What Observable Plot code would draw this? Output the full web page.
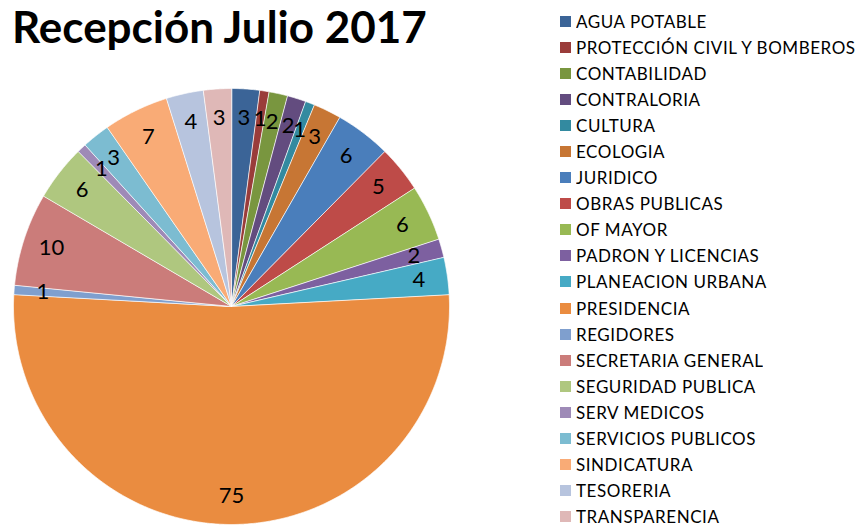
<!DOCTYPE html>
<html><head><meta charset="utf-8">
<script src="https://cdn.jsdelivr.net/npm/d3@7"></script>
<script src="https://cdn.jsdelivr.net/npm/@observablehq/plot@0.6"></script>
<style>
body{margin:0;background:#fff;}
#wrap{position:relative;width:862px;height:527px;overflow:hidden;font-family:Lato,sans-serif;}
#title{position:absolute;left:12px;top:0px;font:bold 44px Lato,sans-serif;color:#000;white-space:nowrap;}
#pie{position:absolute;left:0;top:0;}
#legend{position:absolute;left:560px;top:8px;}
.lg-swatches{font-family:Lato,sans-serif !important;font-size:17px !important;letter-spacing:0.55px;color:#000 !important;margin:0 !important;}
.lg-swatch{height:26.1px !important;padding:0 !important;margin:0 !important;display:flex;align-items:center;white-space:nowrap;}
.lg-swatch svg{margin-right:5px !important;}
</style></head><body>
<div id="wrap"><div id="pie"></div><div id="title"></div><div id="legend"></div></div>
<script>
const title = "Recepción Julio 2017";
const categories = ["AGUA POTABLE","PROTECCIÓN CIVIL Y BOMBEROS","CONTABILIDAD","CONTRALORIA","CULTURA","ECOLOGIA","JURIDICO","OBRAS PUBLICAS","OF MAYOR","PADRON Y LICENCIAS","PLANEACION URBANA","PRESIDENCIA","REGIDORES","SECRETARIA GENERAL","SEGURIDAD PUBLICA","SERV MEDICOS","SERVICIOS PUBLICOS","SINDICATURA","TESORERIA","TRANSPARENCIA"];
const values = [3,1,2,2,1,3,6,5,6,2,4,75,1,10,6,1,3,7,4,3];
const colors = ["#3B6497","#9A3C3A","#79963F","#634C7F","#338AA0","#C77634","#4A7EBB","#BE4B48","#98B954","#7D60A0","#46AAC5","#EA8C40","#7F9FCE","#CB7C7A","#AFC77F","#9E8AB7","#7CBCD1","#F9AB76","#B7C4DE","#DFB8B7"];

document.getElementById("title").textContent = title;

const arcs = d3.pie().sort(null).value(d => d)(values);
const slicePts = [];
const labelData = [];
arcs.forEach((a, i) => {
  const name = categories[i];
  slicePts.push({name, x: 0, y: 0});
  const n = Math.max(4, Math.ceil((a.endAngle - a.startAngle) / 0.005));
  for (let k = 0; k <= n; k++) {
    const t = a.startAngle + (a.endAngle - a.startAngle) * k / n;
    slicePts.push({name, x: Math.sin(t), y: Math.cos(t)});
  }
  const m = (a.startAngle + a.endAngle) / 2;
  const r = 0.868;
  labelData.push({name, v: String(values[i]), x: r * Math.sin(m), y: r * Math.cos(m)});
});

const chart = Plot.plot({
  width: 862, height: 527, margin: 0,
  style: {background: "transparent"},
  x: {domain: [-1, 1], range: [13, 449], axis: null},
  y: {domain: [-1, 1], range: [524, 88], axis: null},
  color: {domain: categories, range: colors},
  marks: [
    Plot.line(slicePts, {x: "x", y: "y", z: "name", fill: "name", stroke: "white", strokeWidth: 0.7, curve: "linear-closed"}),
    Plot.text(labelData, {x: "x", y: "y", text: "v", fill: "black", fontSize: 22, fontFamily: "Lato, sans-serif"})
  ]
});
document.getElementById("pie").appendChild(chart);

const legend = Plot.legend({
  color: {type: "ordinal", domain: categories, range: colors},
  columns: 1, swatchSize: 11, className: "lg"
});
document.getElementById("legend").appendChild(legend);
</script>
</body></html>
